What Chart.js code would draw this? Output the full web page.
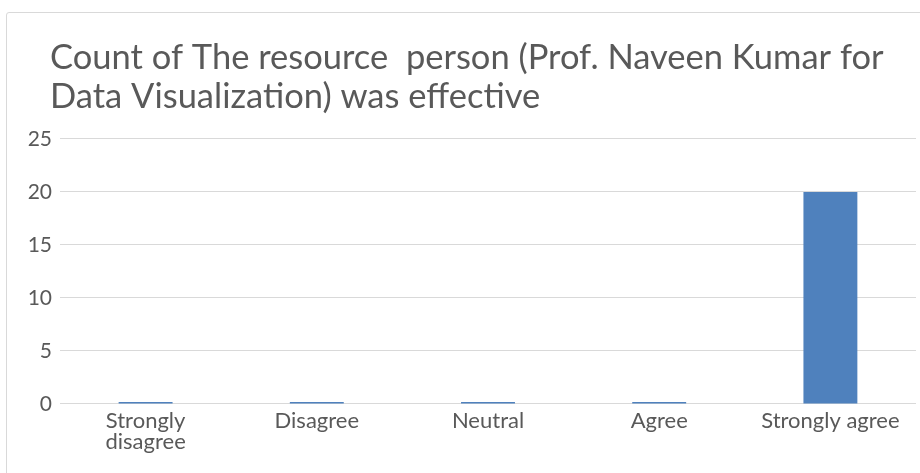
<!DOCTYPE html>
<html>
<head>
<meta charset="utf-8">
<script src="https://cdn.jsdelivr.net/npm/chart.js@4"></script>
<style>
  html, body { margin: 0; padding: 0; background: #fff; overflow: hidden; }
  #frame { position: absolute; left: 6px; top: 12px; width: 1000px; height: 1000px;
           border: 1px solid #d9d9d9; border-radius: 3px; box-sizing: border-box; }
  #wrap { position: absolute; left: 0; top: 0; width: 920px; height: 473px; }
</style>
</head>
<body>
<div id="frame"></div>
<div id="wrap"><canvas id="c" width="920" height="473"></canvas></div>
<script>
const titleLines = ['Count of The resource  person (Prof. Naveen Kumar for', 'Data Visualization) was effective'];
const categories = [['Strongly', 'disagree'], 'Disagree', 'Neutral', 'Agree', 'Strongly agree'];
const counts = [0, 0, 0, 0, 20];
const yMin = 0, yMax = 25, yStep = 5;

const textColor = '#595959';
const shiftTitle = {
  id: 'shiftTitle',
  afterLayout(chart) {
    if (chart.titleBlock) { chart.titleBlock.left += 22; chart.titleBlock.right += 22; }
  }
};
new Chart(document.getElementById('c'), {
  type: 'bar',
  data: {
    labels: categories,
    datasets: [{
      label: 'Count',
      data: counts,
      backgroundColor: '#4f81bd',
      borderWidth: 0,
      minBarLength: 2,
      barPercentage: 0.315,
      categoryPercentage: 1.0
    }]
  },
  plugins: [shiftTitle],
  options: {
    responsive: false,
    animation: false,
    layout: { padding: { left: 28, right: 4, top: 38, bottom: 12 } },
    plugins: {
      legend: { display: false },
      tooltip: { enabled: false },
      title: {
        display: true,
        text: titleLines,
        align: 'start',
        color: textColor,
        font: { family: 'Lato', size: 34.5, weight: 'normal', lineHeight: 1.13 },
        padding: { top: 0, bottom: 23 }
      }
    },
    scales: {
      x: {
        afterFit: (s) => { s.height += 10; },
        grid: { display: false },
        border: { display: false },
        ticks: { color: textColor, font: { family: 'Lato', size: 22, lineHeight: 0.98 }, padding: -2, maxRotation: 0, autoSkip: false }
      },
      y: {
        min: yMin, max: yMax,
        afterFit: (s) => { s.width = 32; },
        grid: { color: '#d9d9d9', lineWidth: 1, drawTicks: false },
        border: { display: false },
        ticks: { stepSize: yStep, color: textColor, font: { family: 'Lato', size: 21 }, padding: 8 }
      }
    }
  }
});
</script>
</body>
</html>
